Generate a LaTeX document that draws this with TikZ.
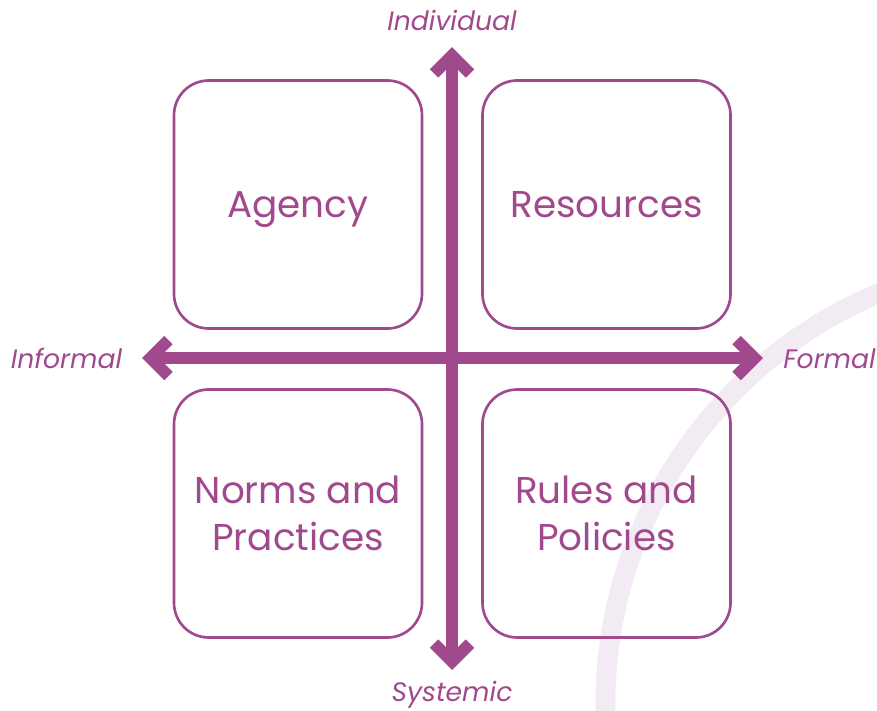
\documentclass[tikz,border=0pt]{standalone}
\usepackage{fontspec}
\setmainfont{Poppins}
\usetikzlibrary{calc}
\definecolor{plum}{RGB}{161,73,141}
\definecolor{lav}{RGB}{243,235,243}
\begin{document}
\begin{tikzpicture}[x=0.75pt,y=-0.75pt,
  box/.style={draw=plum, line width=2pt, rounded corners=26pt, minimum width=186pt, minimum height=186pt, inner sep=0pt, text=plum, font=\fontsize{28}{35}\selectfont, align=center},
  axis/.style={draw=plum, line width=9pt, miter limit=10},
  lbl/.style={text=plum, font=\itshape\fontsize{20}{24}\selectfont, inner sep=0pt}]
\useasboundingbox (0,0) rectangle (877,710);
\begin{scope}
  \clip (0,0) rectangle (877,710);
  \draw[lav, line width=15pt] (1052,705) circle[radius=335pt];
\end{scope}
\node[box, text depth=0pt] (agency) at (298,204.5) {Agency};
\node[box, text depth=0pt] (resources) at (606.5,204.5) {Resources};
\node[box] (norms) at (298,513.5) {Norms and\\Practices};
\node[box] (rules) at (606.5,513.5) {Rules and\\Policies};
\coordinate (n) at (452,55.5);
\coordinate (s) at (452,661.5);
\coordinate (w) at (150.5,358);
\coordinate (e) at (754.5,358);
\draw[axis] (n) -- (s);
\draw[axis] (w) -- (e);
\draw[axis] ($(n)+(-18,18)$) -- (n) -- ($(n)+(18,18)$);
\draw[axis] ($(s)+(-18,-18)$) -- (s) -- ($(s)+(18,-18)$);
\draw[axis] ($(w)+(18,-18)$) -- (w) -- ($(w)+(18,18)$);
\draw[axis] ($(e)+(-18,-18)$) -- (e) -- ($(e)+(-18,18)$);
\node[lbl, anchor=base] (ind) at (452,31) {Individual};
\node[lbl, anchor=base] (sys) at (452,701.5) {Systemic};
\node[lbl, anchor=base] (inf) at (66.5,368) {Informal};
\node[lbl, anchor=base] (for) at (829.5,368) {Formal};
\end{tikzpicture}
\end{document}
